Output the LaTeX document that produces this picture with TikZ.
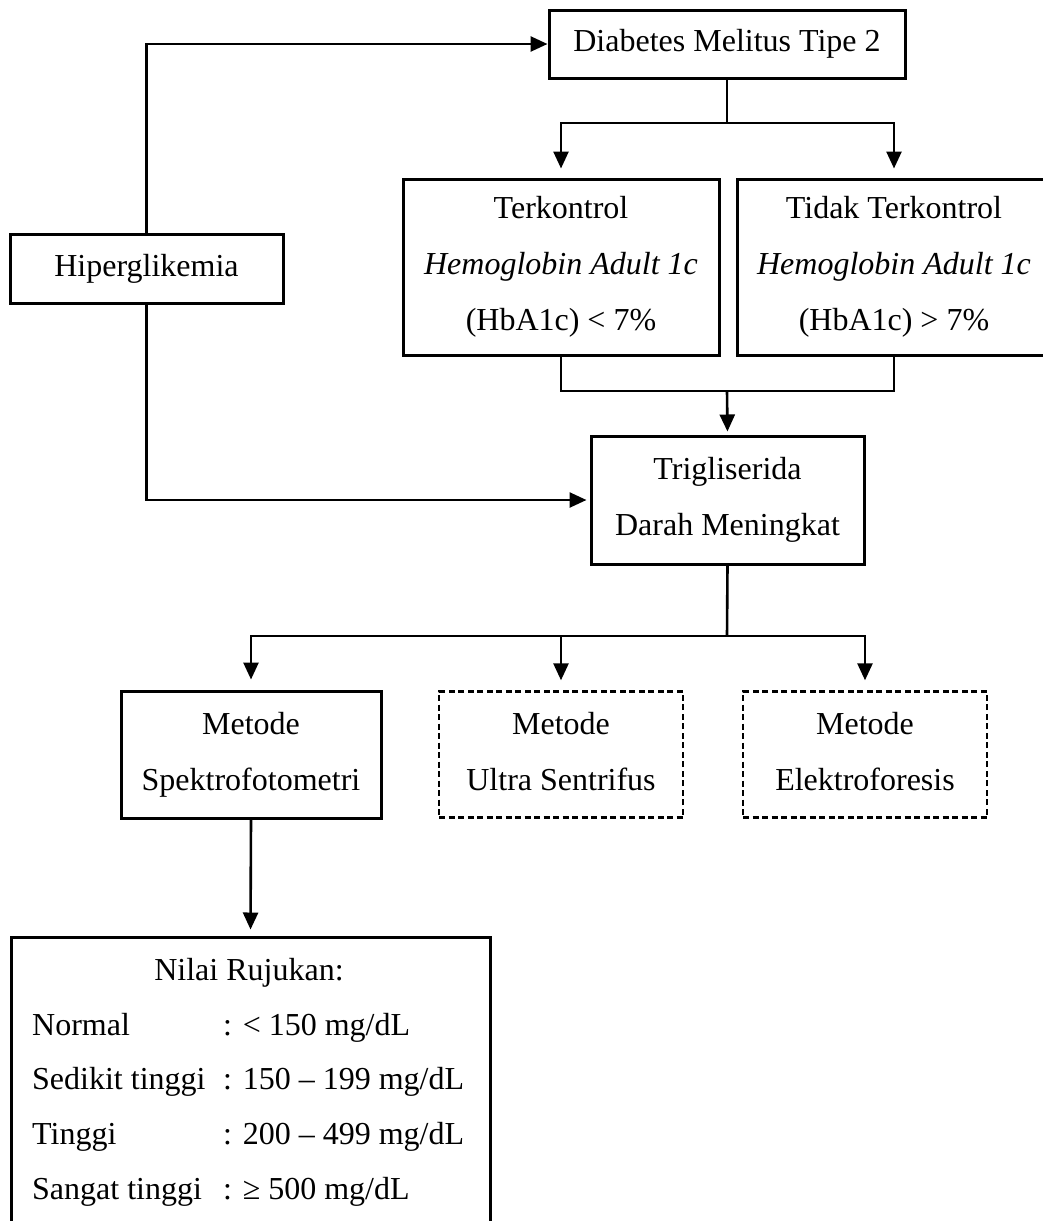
\documentclass[tikz,border=0pt]{standalone}
\usepackage{fontspec}
\setmainfont{Liberation Serif}
\usetikzlibrary{arrows.meta}
\newcommand\hs{\vphantom{Tg}}
\begin{document}
\begin{tikzpicture}[x=1pt,y=-1pt,
  box/.style={draw,line width=3pt,rectangle,inner sep=0pt,align=center,
    font=\fontsize{32}{56}\selectfont},
  dbox/.style={box,line width=2.4pt,dash pattern=on 6pt off 3.5pt},
  line/.style={line width=2.6pt},
  arr/.style={line width=2.6pt,-{Triangle[length=17pt,width=15pt]}},
  txt/.style={inner sep=0pt,font=\fontsize{32}{38}\selectfont}]
\clip (0,0) rectangle (1043,1221);
\fill[white] (0,0) rectangle (1043,1221);

\node[box,minimum width=356pt,minimum height=68pt] (dm) at (727,44) {\hs Diabetes Melitus Tipe 2};
\node[box,minimum width=273pt,minimum height=69pt] (hip) at (146.5,268.5) {\hs Hiperglikemia};
\node[box,minimum width=316pt,minimum height=176pt] (ter) at (561,267)
  {\hs Terkontrol\\\textit{Hemoglobin Adult 1c}\\\hs(HbA1c) < 7\%};
\node[box,minimum width=314pt,minimum height=176pt] (tid) at (894,267)
  {\hs Tidak Terkontrol\\\textit{Hemoglobin Adult 1c}\\\hs(HbA1c) > 7\%};
\node[box,minimum width=273pt,minimum height=128pt] (tri) at (727.5,500)
  {\hs Trigliserida\\\hs Darah Meningkat};
\node[box,minimum width=260pt,minimum height=127pt] (sp) at (251,754.5)
  {\hs Metode\\\hs Spektrofotometri};
\node[dbox,minimum width=244pt,minimum height=126pt] (us) at (561,754.5)
  {\hs Metode\\\hs Ultra Sentrifus};
\node[dbox,minimum width=244pt,minimum height=126pt] (el) at (865,754.5)
  {\hs Metode\\\hs Elektroforesis};
\node[draw,line width=3pt,minimum width=479pt,minimum height=323pt,inner sep=0pt] (nr) at (250.5,1098.5) {};

\node[txt,anchor=base] (nrt) at (249,980) {Nilai Rujukan:};
\node[txt,anchor=base west] (k1) at (32,1035) {Normal};
\node[txt,anchor=base west] (k2) at (32,1089) {Sedikit tinggi};
\node[txt,anchor=base west] (k3) at (32,1144) {Tinggi};
\node[txt,anchor=base west] (k4) at (32,1199) {Sangat tinggi};
\node[txt,anchor=base west] (v1) at (223,1035) {: < 150 mg/dL};
\node[txt,anchor=base west] (v2) at (223,1089) {: 150 – 199 mg/dL};
\node[txt,anchor=base west] (v3) at (223,1144) {: 200 – 499 mg/dL};
\node[txt,anchor=base west] (v4) at (223,1199) {: ≥ 500 mg/dL};

% connectors
\draw[arr] (hip.north) |- (dm.west);
\draw[arr,shorten >=3pt] (hip.south) |- (tri.west);

\coordinate (j1) at (727,123);
\draw[line] (dm.south) -- (j1);
\draw[arr,shorten >=9pt] (j1) -| (ter.north);
\draw[arr,shorten >=9pt] (j1) -| (tid.north);

\coordinate (j2) at (727,391);
\draw[line] (ter.south) |- (j2);
\draw[line] (tid.south) |- (j2);
\draw[arr,shorten >=3pt] (j2) -- (tri.north);

\coordinate (j3) at (727,636);
\draw[line] (tri.south) -- (j3);
\draw[arr,shorten >=10pt] (j3) -| (sp.north);
\draw[arr,shorten >=10pt] (j3) -| (us.north);
\draw[arr,shorten >=10pt] (j3) -| (el.north);

\draw[arr,shorten >=6pt] (sp.south) -- (nr.north);
\end{tikzpicture}
\end{document}
